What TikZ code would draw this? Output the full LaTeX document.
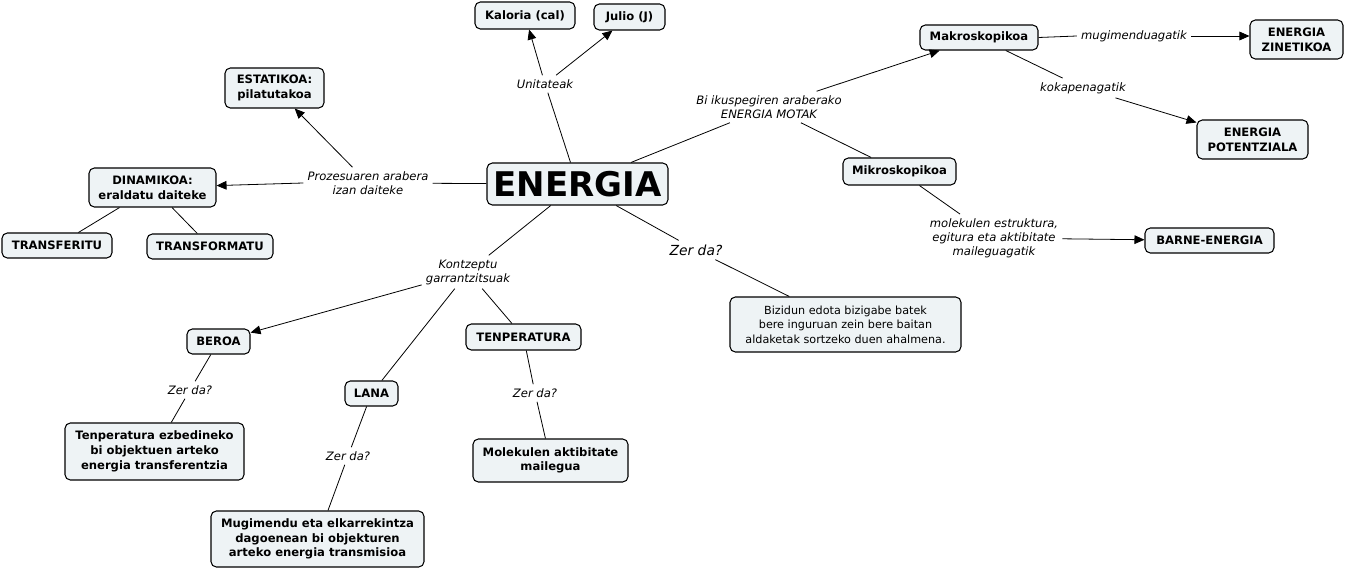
\documentclass[tikz,border=0pt]{standalone}
\usepackage{fontspec}
\setmainfont{DejaVu Sans}
\usetikzlibrary{arrows.meta}
\definecolor{boxfill}{HTML}{EEF3F5}
\tikzset{
  cbox/.style={draw=black, line width=0.8pt, fill=boxfill, rounded corners=4pt, inner sep=1pt, align=center,
    font=\fontsize{8.7}{11}\selectfont\bfseries},
  sz/.style 2 args={minimum width=#1*0.75pt, minimum height=#2*0.75pt},
  lbl/.style={inner sep=3pt, align=center, font=\fontsize{8.7}{10.5}\selectfont\itshape},
  conn/.style={line width=0.6pt, black},
  arr/.style={conn, -{Triangle[length=7.5pt,width=6.5pt]}},
}
\begin{document}
\begin{tikzpicture}[x=0.75pt,y=-0.75pt]
\useasboundingbox (0,0) rectangle (1345,570);

% concept nodes
\node[cbox, sz={181}{42}, font=\fontsize{25.5}{28}\selectfont\bfseries] (energia) at (577.5,184) {ENERGIA};
\node[cbox, sz={100}{27}] (kal) at (525,15.5) {Kaloria (cal)};
\node[cbox, sz={71}{26}] (jul) at (629.5,17) {Julio (J)};
\node[cbox, sz={99}{40}] (esta) at (274.5,88) {ESTATIKOA:\\pilatutakoa};
\node[cbox, sz={127}{39}] (dina) at (152.5,187.5) {DINAMIKOA:\\eraldatu daiteke};
\node[cbox, sz={110}{25}] (tfer) at (57,245.5) {TRANSFERITU};
\node[cbox, sz={126}{25}] (tfor) at (210,246.5) {TRANSFORMATU};
\node[cbox, sz={118}{25}] (makro) at (979,37.5) {Makroskopikoa};
\node[cbox, sz={93}{39}] (zin) at (1296.5,39.5) {ENERGIA\\ZINETIKOA};
\node[cbox, sz={111}{39}] (pot) at (1252.5,139.5) {ENERGIA\\POTENTZIALA};
\node[cbox, sz={113}{27}] (mikro) at (899.5,171.5) {Mikroskopikoa};
\node[cbox, sz={129}{25}] (barne) at (1209.5,240.5) {BARNE-ENERGIA};
\node[cbox, sz={231}{55}, font=\fontsize{8.4}{11}\selectfont] (bizi) at (845.5,324.5) {Bizidun edota bizigabe batek\\bere inguruan zein bere baitan\\aldaketak sortzeko duen ahalmena.};
\node[cbox, sz={63}{25}] (beroa) at (218.5,341.5) {BEROA};
\node[cbox, sz={53}{25}] (lana) at (371.5,393.5) {LANA};
\node[cbox, sz={115}{26}] (tenp) at (523.5,337) {TENPERATURA};
\node[cbox, sz={179}{57}] (tezb) at (154.5,451.5) {Tenperatura ezbedineko\\bi objektuen arteko\\energia transferentzia};
\node[cbox, sz={213}{56}] (mugi) at (317.5,539) {Mugimendu eta elkarrekintza\\dagoenean bi objekturen\\arteko energia transmisioa};
\node[cbox, sz={155}{43}] (mole) at (550.5,460.5) {Molekulen aktibitate\\mailegua};

% linking phrases
\node[lbl] (unit) at (545,84) {Unitateak};
\node[lbl] (proz) at (368,183) {Prozesuaren arabera\\izan daiteke};
\node[lbl] (biik) at (769,107) {Bi ikuspegiren araberako\\ENERGIA MOTAK};
\node[lbl] (mugl) at (1134,36) {mugimenduagatik};
\node[lbl] (koka) at (1083,88) {kokapenagatik};
\node[lbl] (molek) at (994,238) {molekulen estruktura,\\egitura eta aktibitate\\maileguagatik};
\node[lbl] (kontz) at (468,272) {Kontzeptu\\garrantzitsuak};
\node[lbl, font=\fontsize{10.4}{12}\selectfont\itshape] (zerE) at (696,250) {Zer da?};
\node[lbl] (zerB) at (190,390) {Zer da?};
\node[lbl] (zerL) at (348,456) {Zer da?};
\node[lbl] (zerT) at (535,393) {Zer da?};

% connectors
\draw[conn] (energia) -- (unit);
\draw[arr] (unit) -- (kal);
\draw[arr] (unit) -- (jul);
\draw[conn] (energia) -- (proz);
\draw[arr] (proz) -- (esta);
\draw[arr] (proz.west) -- (dina);
\draw[conn] (dina) -- (tfer);
\draw[conn] (dina) -- (tfor);
\draw[conn] (energia) -- (biik);
\draw[arr] (biik) -- (makro);
\draw[conn] (biik) -- (mikro);
\draw[conn] (makro.east) -- (mugl.west);
\draw[arr] (mugl.east) -- (zin.west |- mugl.east);
\draw[conn] (makro) -- (koka);
\draw[arr] (koka) -- (pot);
\draw[conn] (mikro) -- (molek);
\draw[arr] (molek) -- (barne);
\draw[conn] (energia) -- (kontz);
\draw[arr] (kontz) -- (beroa);
\draw[conn] (kontz) -- (lana);
\draw[conn] (kontz) -- (tenp);
\draw[conn] (energia) -- (zerE);
\draw[conn] (zerE) -- (bizi);
\draw[conn] (beroa) -- (zerB);
\draw[conn] (zerB) -- (tezb);
\draw[conn] (lana) -- (zerL);
\draw[conn] (zerL) -- (mugi);
\draw[conn] (tenp) -- (zerT);
\draw[conn] (zerT) -- (mole);
\end{tikzpicture}
\end{document}
